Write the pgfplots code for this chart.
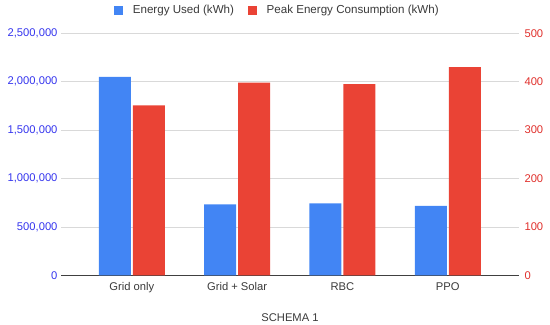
\documentclass[border=0pt]{standalone}
\usepackage{pgfplots}
\pgfplotsset{compat=1.18}
\usepackage{fontspec}
\setmainfont{Liberation Sans}
\definecolor{barblue}{HTML}{4285F4}
\definecolor{barred}{HTML}{EA4335}
\definecolor{lblblue}{HTML}{3535EE}
\definecolor{lblred}{HTML}{E0302C}
\definecolor{gridgray}{HTML}{D9D9D9}
\definecolor{txtgray}{HTML}{3A3A3A}
\begin{document}
\fontsize{11.2bp}{13bp}\selectfont
\begin{tikzpicture}
\useasboundingbox (0,0) rectangle (550bp,325bp);
\pgfplotsset{
  common/.style={
    at={(61.4bp,49.7bp)}, anchor=south west,
    scale only axis, width=457.2bp, height=242bp,
    xmin=-0.668, xmax=3.672,
    ybar, bar width=32bp,
    major tick length=0pt,
    tick style={draw=none},
    /pgf/number format/assume math mode=true,
    ticklabel style={font=\fontsize{11.2bp}{13bp}\selectfont},
  }
}
\begin{axis}[common,
  axis x line*=bottom, axis y line*=left,
  x axis line style={-, draw=black!75, line width=0.8pt},
  y axis line style={draw=none},
  ymin=0, ymax=2500000,
  ytick={0,500000,1000000,1500000,2000000,2500000},
  scaled y ticks=false,
  yticklabel style={text=lblblue, /pgf/number format/.cd, fixed, 1000 sep={,}},
  ymajorgrids, grid style={gridgray, line width=0.8pt},
  xtick={0,1,2,3},
  xticklabels={Grid only, Grid + Solar, RBC, PPO},
  xticklabel style={text=txtgray, yshift=-3bp},
  xlabel={SCHEMA 1},
  xlabel style={at={(axis description cs:0.5,0)}, anchor=center, yshift=-42bp, text=txtgray, font=\fontsize{11.2bp}{13bp}\selectfont},
]
\addplot[fill=barblue, draw=none, bar shift=-17bp] coordinates {(0,2051000) (1,733000) (2,744000) (3,716000)};
\end{axis}
\begin{axis}[common,
  axis x line=none, axis y line*=right,
  y axis line style={draw=none},
  ymin=0, ymax=500,
  ytick={0,100,200,300,400,500},
  yticklabel style={text=lblred, xshift=2bp},
  xtick=\empty,
  legend columns=2,
  legend style={draw=none, fill=none, at={(axis description cs:0.4727,1.094)}, anchor=center,
    font=\fontsize{11.6bp}{13bp}\selectfont, text=txtgray,
    /tikz/every odd column/.append style={column sep=8bp},
    /tikz/every even column/.append style={column sep=12bp}},
  legend image code/.code={\fill[#1] (0bp,-4.3bp) rectangle (8.6bp,4.3bp);},
]
\addlegendimage{fill=barblue, draw=none}
\addlegendentry{Energy Used (kWh)}
\addplot[fill=barred, draw=none, bar shift=17bp] coordinates {(0,351) (1,398) (2,395) (3,430)};
\addlegendentry{Peak Energy Consumption (kWh)}
\end{axis}
\end{tikzpicture}
\end{document}
